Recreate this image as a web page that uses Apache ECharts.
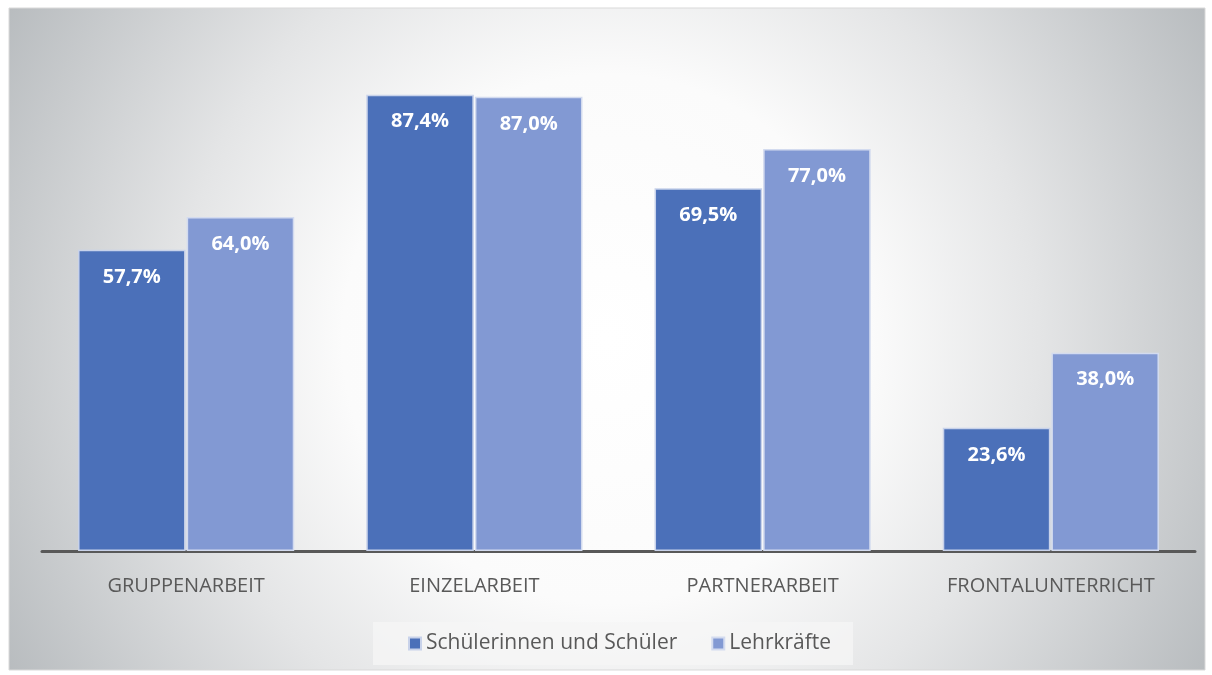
<!DOCTYPE html>
<html>
<head>
    <meta charset="utf-8">
    <title>Sozialformen</title>
    <script src="https://cdn.jsdelivr.net/npm/echarts@6/dist/echarts.min.js"></script>
    <style>
        body { margin: 0; background: #fff; }
    </style>
</head>
<body>
<div id="main" style="width: 1212px;height:675px;"></div>
<script type="text/javascript">
    var categories = ['GRUPPENARBEIT', 'EINZELARBEIT', 'PARTNERARBEIT', 'FRONTALUNTERRICHT'];
    var schueler = [57.7, 87.4, 69.5, 23.6];
    var lehrer = [64.0, 87.0, 77.0, 38.0];
    var seriesNames = ['Schülerinnen und Schüler', 'Lehrkräfte'];

    var myChart = echarts.init(document.getElementById('main'));

    function fmt(p) {
        return p.value.toFixed(1).replace('.', ',') + '%';
    }

    var labelStyle = {
        show: true,
        position: 'insideTop',
        distance: 17,
        color: '#fff',
        fontFamily: 'Open Sans',
        fontWeight: 'bold',
        fontSize: 20,
        formatter: fmt
    };

    var option = {
        graphic: [{
            type: 'rect',
            z: -10,
            silent: true,
            shape: { x: 9, y: 8, width: 1196, height: 662 },
            style: {
                fill: new echarts.graphic.RadialGradient(0.5, 0.5, 1.05, [
                    { offset: 0, color: '#ffffff' },
                    { offset: 0.38, color: '#fbfbfb' },
                    { offset: 0.62, color: '#e4e5e6' },
                    { offset: 1, color: '#b6babd' }
                ]),
                stroke: '#d9d9d9',
                lineWidth: 1
            }
        }],
        legend: {
            bottom: 10,
            left: 373,
            icon: 'rect',
            itemWidth: 12,
            itemHeight: 12,
            itemGap: 34,
            padding: [11, 22, 11, 35],
            backgroundColor: 'rgba(245,245,245,0.75)',
            textStyle: {
                color: '#595959',
                fontFamily: 'Open Sans',
                fontSize: 21
            },
            data: seriesNames
        },
        grid: {
            left: 42,
            right: 17,
            top: 29,
            bottom: 124
        },
        xAxis: {
            type: 'category',
            data: categories,
            axisLine: { lineStyle: { color: '#595959', width: 3 } },
            axisTick: { show: false },
            axisLabel: {
                color: '#595959',
                fontFamily: 'Open Sans',
                fontSize: 20,
                margin: 25
            }
        },
        yAxis: {
            type: 'value',
            min: 0,
            max: 100,
            show: false,
            splitLine: { show: false }
        },
        series: [{
            name: seriesNames[0],
            type: 'bar',
            data: schueler,
            barCategoryGap: '25%',
            barGap: '1%',
            itemStyle: { color: '#4b70b9', borderColor: '#c8d2ea', borderWidth: 1.5 },
            label: labelStyle
        }, {
            name: seriesNames[1],
            type: 'bar',
            data: lehrer,
            itemStyle: { color: '#8299d3', borderColor: '#d3dbef', borderWidth: 1.5 },
            label: labelStyle
        }]
    };

    myChart.setOption(option);
</script>
</body>
</html>
